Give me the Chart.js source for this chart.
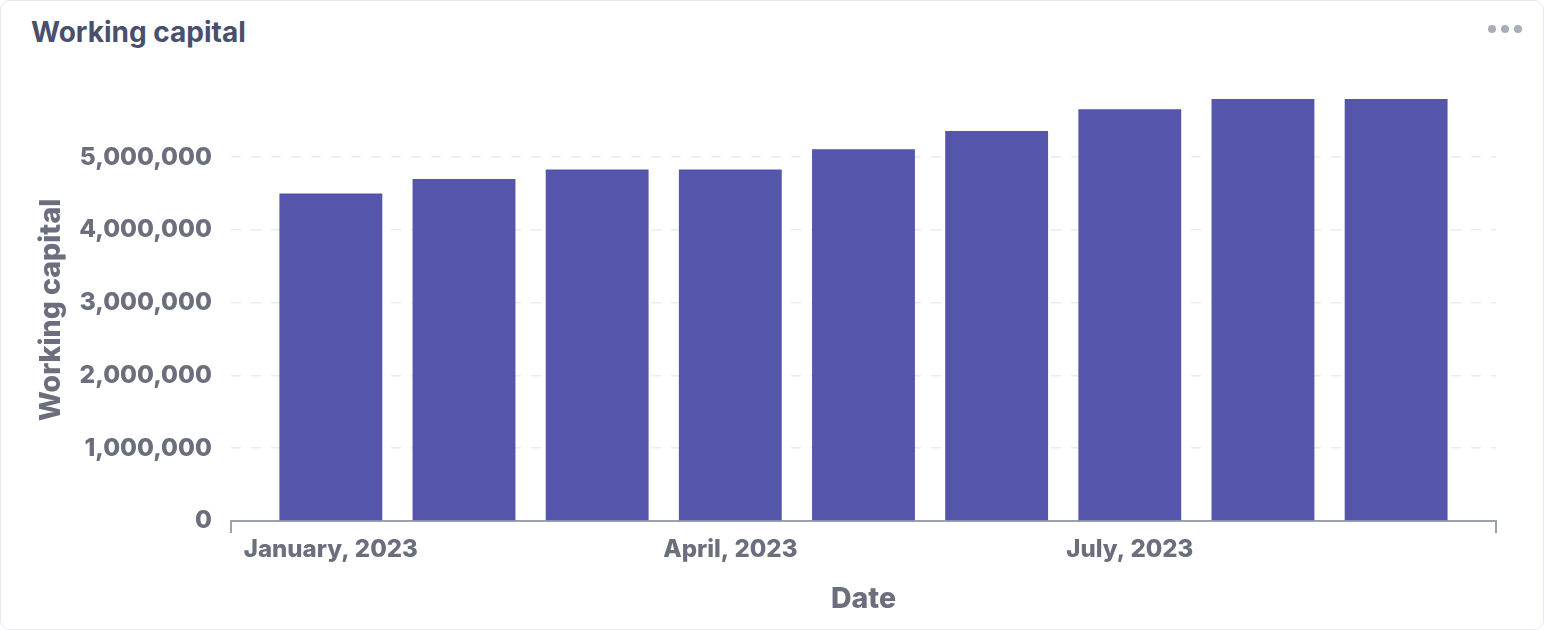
<!DOCTYPE html>
<html>
<head>
<meta charset="utf-8">
<script src="https://cdn.jsdelivr.net/npm/chart.js@4.4.0/dist/chart.umd.min.js"></script>
<style>
  html, body { margin: 0; padding: 0; background: #fff; }
  body { width: 1544px; height: 630px; position: relative; overflow: hidden; font-family: Inter, sans-serif; }
  .card { position: absolute; left: 0; top: 0; width: 1542px; height: 628px; border: 1px solid #e8e9ee; border-radius: 10px; }
  #title { position: absolute; left: 31px; top: 15px; font-size: 28px; font-weight: 700; color: #48506d; }
  .dots { position: absolute; left: 1488px; top: 25px; }
  .dots span { display: inline-block; width: 8px; height: 8px; border-radius: 50%; background: #a9acb9; margin-right: 5px; float: left; }
  #wrap { position: absolute; left: 0; top: 0; width: 1544px; height: 630px; }
</style>
</head>
<body>
<div class="card"></div>
<div id="title">Working capital</div>
<div class="dots"><span></span><span></span><span></span></div>
<div id="wrap"><canvas id="myChart"></canvas></div>
<script>
// datos
const months = ['January, 2023', 'February, 2023', 'March, 2023', 'April, 2023', 'May, 2023',
                'June, 2023', 'July, 2023', 'August, 2023', 'September, 2023'];
const capital = [4500000, 4700000, 4830000, 4830000, 5110000, 5360000, 5660000, 5800000, 5800000];
const yTicks = [0, 1000000, 2000000, 3000000, 4000000, 5000000];
const xTicks = [0, 3, 6]; // solo enero, abril y julio llevan etiqueta

const axisGray = '#9ba1b1';
const textGray = '#6b6e7c';

new Chart('myChart', {
  type: 'bar',
  data: {
    datasets: [{
      data: capital.map((v, i) => ({ x: i, y: v })),
      backgroundColor: '#5455ab',
      borderWidth: 0,
      categoryPercentage: 1,
      barPercentage: 1.03
    }]
  },
  options: {
    responsive: true,
    maintainAspectRatio: false,
    animation: false,
    layout: { padding: { left: 34, right: 48, top: 99, bottom: 13 } },
    plugins: { legend: { display: false }, tooltip: { enabled: false } },
    scales: {
      x: {
        type: 'linear',
        offset: false,
        min: -0.75,
        max: 8.75,
        afterBuildTicks: (axis) => {
          axis.ticks = [-0.75, ...xTicks, 8.75].map(v => ({ value: v }));
        },
        ticks: {
          autoSkip: false,
          maxRotation: 0,
          padding: 2,
          color: textGray,
          font: { family: 'Inter', size: 24, weight: 800 },
          callback: (v) => Number.isInteger(v) ? months[v] : ''
        },
        grid: {
          offset: false,
          drawOnChartArea: false,
          tickLength: 12,
          lineWidth: 2,
          color: (ctx) => (ctx.tick && Number.isInteger(ctx.tick.value)) ? 'rgba(0,0,0,0)' : axisGray
        },
        border: { display: true, color: axisGray, width: 2 },
        title: {
          display: true,
          text: 'Date',
          color: textGray,
          font: { family: 'Inter', size: 28.5, weight: 800 },
          padding: { top: 17, bottom: 0 }
        }
      },
      y: {
        min: 0,
        max: 5800000,
        afterBuildTicks: (axis) => {
          axis.ticks = yTicks.map(v => ({ value: v }));
        },
        ticks: {
          padding: 19,
          color: textGray,
          font: { family: 'Inter', size: 24.5, weight: 800 },
          callback: (v) => v.toLocaleString('en-US')
        },
        grid: { color: '#ececec', lineWidth: 1.5, drawTicks: false },
        border: { display: false, dash: [10, 10] },
        title: {
          display: true,
          text: 'Working capital',
          color: textGray,
          font: { family: 'Inter', size: 28.5, weight: 800 },
          padding: { top: 0, bottom: -8 }
        }
      }
    }
  }
});
</script>
</body>
</html>
